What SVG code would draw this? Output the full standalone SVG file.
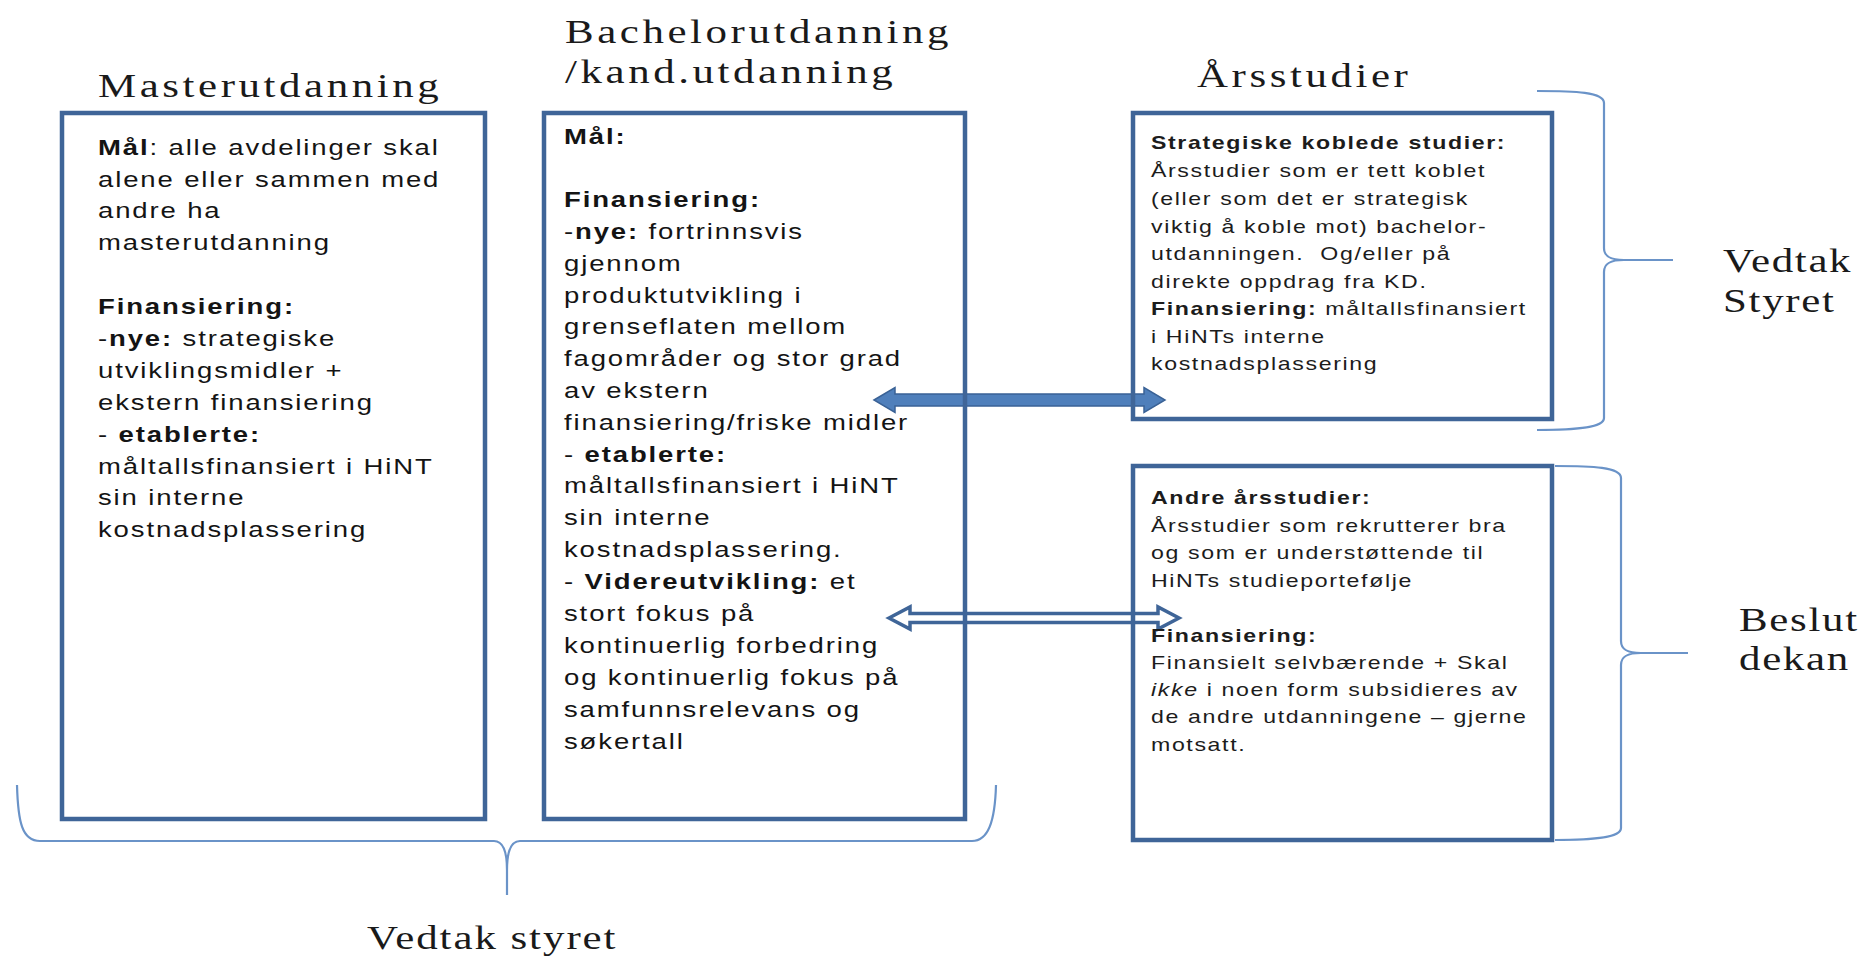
<svg xmlns="http://www.w3.org/2000/svg" width="1863" height="958" viewBox="0 0 1863 958">
<style>
.box{fill:none;stroke:#3F6598;stroke-width:4.5}
.brace{fill:none;stroke:#6A93C8;stroke-width:2.2}
.ttl{font-family:"Liberation Serif","Times New Roman",serif;font-size:33px;fill:#1a1a1a;letter-spacing:2.75px}
.lbl{font-family:"Liberation Serif","Times New Roman",serif;font-size:33px;fill:#1a1a1a;letter-spacing:1.3px}
.t1{font-family:"Liberation Sans",Arial,sans-serif;font-size:22px;fill:#141414;letter-spacing:1.5px}
.t2{font-family:"Liberation Sans",Arial,sans-serif;font-size:18.5px;fill:#1c1c1c;letter-spacing:1.3px}
.b{font-weight:bold}
.i{font-style:italic}
.a1{fill:#4F7FBB;stroke:#3A6296;stroke-width:1.5;stroke-linejoin:miter}
.a2{fill:#ffffff;stroke:#3F6598;stroke-width:3.5;stroke-linejoin:miter}
</style>

<g id="connectors">
<polygon class="a1" points="874,400 895,387.5 895,394 1144,394 1144,387.5 1165,400 1144,412.5 1144,406 895,406 895,412.5"/>
<polygon class="a2" points="889,618 910,607 910,613.5 1158,613.5 1158,607 1179,618 1158,629 1158,622.5 910,622.5 910,629"/>
</g>

<g id="title-master">
<g transform="translate(98,0) scale(1.3,1)"><text class="ttl" x="0" y="97">Masterutdanning</text></g>
</g>
<g id="title-bachelor">
<g transform="translate(565,0) scale(1.3,1)"><text class="ttl" x="0" y="43">Bachelorutdanning</text><text class="ttl" x="0" y="83">/kand.utdanning</text></g>
</g>
<g id="title-arsstudier">
<g transform="translate(1197,0) scale(1.3,1)"><text class="ttl" x="0" y="87">Årsstudier</text></g>
</g>

<g id="node-master">
<rect class="box" x="62" y="113" width="423" height="706"/>
<g transform="translate(98,0) scale(1.25,1)">
<text class="t1" x="0" y="155"><tspan class="b">Mål</tspan>: alle avdelinger skal</text>
<text class="t1" x="0" y="187">alene eller sammen med</text>
<text class="t1" x="0" y="218">andre ha</text>
<text class="t1" x="0" y="250">masterutdanning</text>
<text class="t1 b" x="0" y="314">Finansiering:</text>
<text class="t1" x="0" y="346">-<tspan class="b">nye:</tspan> strategiske</text>
<text class="t1" x="0" y="378">utviklingsmidler +</text>
<text class="t1" x="0" y="410">ekstern finansiering</text>
<text class="t1" x="0" y="442">- <tspan class="b">etablerte:</tspan></text>
<text class="t1" x="0" y="474">måltallsfinansiert i HiNT</text>
<text class="t1" x="0" y="505">sin interne</text>
<text class="t1" x="0" y="537">kostnadsplassering</text>
</g>
</g>

<g id="node-bachelor">
<rect class="box" x="544" y="113" width="421" height="706"/>
<g transform="translate(564,0) scale(1.25,1)">
<text class="t1 b" x="0" y="144">Mål:</text>
<text class="t1 b" x="0" y="207">Finansiering:</text>
<text class="t1" x="0" y="239">-<tspan class="b">nye:</tspan>  fortrinnsvis</text>
<text class="t1" x="0" y="271">gjennom</text>
<text class="t1" x="0" y="303">produktutvikling i</text>
<text class="t1" x="0" y="334">grenseflaten mellom</text>
<text class="t1" x="0" y="366">fagområder og stor grad</text>
<text class="t1" x="0" y="398">av ekstern</text>
<text class="t1" x="0" y="430">finansiering/friske midler</text>
<text class="t1" x="0" y="462">- <tspan class="b">etablerte:</tspan></text>
<text class="t1" x="0" y="493">måltallsfinansiert i HiNT</text>
<text class="t1" x="0" y="525">sin interne</text>
<text class="t1" x="0" y="557">kostnadsplassering.</text>
<text class="t1" x="0" y="589">- <tspan class="b">Videreutvikling:</tspan> et</text>
<text class="t1" x="0" y="621">stort fokus på</text>
<text class="t1" x="0" y="653">kontinuerlig forbedring</text>
<text class="t1" x="0" y="685">og kontinuerlig fokus på</text>
<text class="t1" x="0" y="717">samfunnsrelevans og</text>
<text class="t1" x="0" y="749">søkertall</text>
</g>
</g>

<g id="node-strategiske">
<rect class="box" x="1133" y="113" width="419" height="306"/>
<g transform="translate(1151,0) scale(1.25,1)">
<text class="t2 b" x="0" y="149">Strategiske koblede studier:</text>
<text class="t2" x="0" y="177">Årsstudier som er tett koblet</text>
<text class="t2" x="0" y="205">(eller som det er strategisk</text>
<text class="t2" x="0" y="233">viktig å koble mot) bachelor-</text>
<text class="t2" x="0" y="260" xml:space="preserve">utdanningen.  Og/eller på</text>
<text class="t2" x="0" y="288">direkte oppdrag fra KD.</text>
<text class="t2" x="0" y="315"><tspan class="b">Finansiering:</tspan> måltallsfinansiert</text>
<text class="t2" x="0" y="343">i HiNTs interne</text>
<text class="t2" x="0" y="370">kostnadsplassering</text>
</g>
</g>

<g id="node-andre">
<rect class="box" x="1133" y="466" width="419" height="374"/>
<g transform="translate(1151,0) scale(1.25,1)">
<text class="t2 b" x="0" y="504">Andre årsstudier:</text>
<text class="t2" x="0" y="532">Årsstudier som rekrutterer bra</text>
<text class="t2" x="0" y="559">og som er understøttende til</text>
<text class="t2" x="0" y="587">HiNTs studieportefølje</text>
<text class="t2 b" x="0" y="642">Finansiering:</text>
<text class="t2" x="0" y="669">Finansielt selvbærende + Skal</text>
<text class="t2" x="0" y="696"><tspan class="i">ikke</tspan> i noen form subsidieres av</text>
<text class="t2" x="0" y="723">de andre utdanningene – gjerne</text>
<text class="t2" x="0" y="751">motsatt.</text>
</g>
</g>

<g id="braces">
<path class="brace" d="M17 785 C18 822 22 841 40 841 L494 841 C503 841 507 850 507 870 L507 895 L507 870 C507 850 511 841 520 841 L972 841 C988 841 995 822 996 785"/>
<path class="brace" d="M1537 91 C1575 91 1604 92 1604 103 L1604 248 C1604 257 1611 260 1624 260 L1673 260 M1624 260 C1611 260 1604 263 1604 272 L1604 418 C1604 428 1575 430 1537 430"/>
<path class="brace" d="M1555 466 C1592 466 1621 467 1621 478 L1621 641 C1621 650 1628 653 1641 653 L1688 653 M1641 653 C1628 653 1621 656 1621 665 L1621 828 C1621 838 1592 840 1555 840"/>
</g>

<g id="label-vedtak-styret-bottom">
<g transform="translate(367,0) scale(1.3,1)"><text class="ttl" style="letter-spacing:1.5px" x="0" y="949">Vedtak styret</text></g>
</g>
<g id="label-vedtak-styret-right">
<g transform="translate(1723,0) scale(1.3,1)"><text class="lbl" x="0" y="272">Vedtak</text><text class="lbl" x="0" y="312">Styret</text></g>
</g>
<g id="label-beslut-dekan">
<g transform="translate(1739,0) scale(1.3,1)"><text class="lbl" x="0" y="631">Beslut</text><text class="lbl" x="0" y="670">dekan</text></g>
</g>
</svg>
